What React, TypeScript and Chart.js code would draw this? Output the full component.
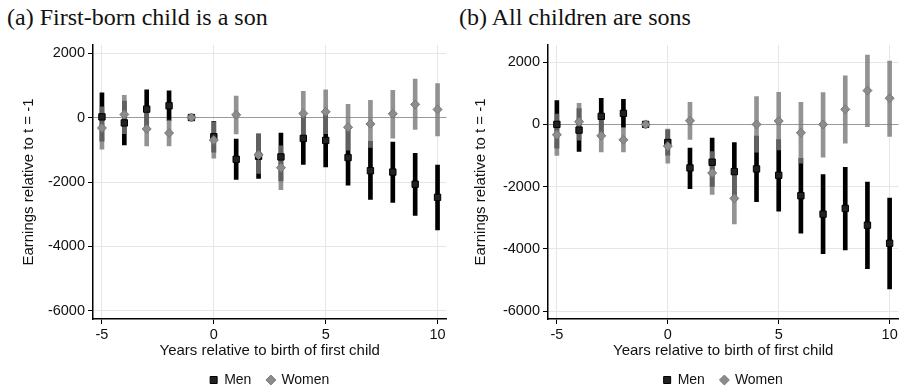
import React, { useEffect, useRef } from 'react';
import { Chart, registerables } from 'chart.js';

Chart.register(...registerables);

const years = [-5, -4, -3, -2, -1, 0, 1, 2, 3, 4, 5, 6, 7, 8, 9, 10];

// Panel (a): first-born child is a son
const menA = [20, -167, 261, 365, 0, -595, -1295, -1200, -1222, -647, -710, -1243, -1650, -1692, -2068, -2475];
const menALo = [-730, -846, -334, -95, 0, -1075, -1921, -1890, -1964, -1452, -1535, -2099, -2538, -2632, -3039, -3488];
const menAHi = [770, 512, 856, 825, 0, -115, -668, -510, -480, 158, 115, -387, -741, -762, -1107, -1473];
const womenA = [-324, 94, -355, -480, 0, -700, 84, -1159, -1556, 125, 178, -303, -198, 115, 407, 251];
const womenALo = [-982, -500, -877, -877, 0, -1264, -512, -1730, -2235, -565, -500, -1013, -930, -637, -366, -574];
const womenAHi = [334, 690, 167, -83, 0, -136, 668, -501, -877, 815, 856, 407, 533, 846, 1190, 1055];

// Panel (b): all children are sons
const menB = [0, -183, 258, 355, 0, -581, -1398, -1215, -1516, -1430, -1634, -2290, -2882, -2699, -3237, -3817];
const menBLo = [-763, -871, -323, -96, 0, -990, -2065, -1989, -2451, -2484, -2785, -3495, -4150, -4032, -4634, -5280];
const menBHi = [763, 505, 839, 806, 0, -172, -763, -441, -581, -376, -484, -1086, -1613, -1376, -1849, -2366];
const womenB = [-333, 86, -366, -495, 0, -699, 118, -1559, -2376, 0, 108, -269, 0, 484, 1086, 839];
const womenBLo = [-1000, -505, -882, -882, 0, -1247, -484, -2247, -3194, -892, -817, -1247, -1054, -602, -75, -387];
const womenBHi = [333, 677, 150, -108, 0, -151, 710, -871, -1559, 892, 1032, 710, 1022, 1559, 2226, 2032];

const yTicks = [-6000, -4000, -2000, 0, 2000];
const xTicks = [-5, 0, 5, 10];
const seriesLabels = ['Men', 'Women'];
const panelTitles = ['(a) First-born child is a son', '(b) All children are sons'];
const xTitle = 'Years relative to birth of first child';
const yTitle = 'Earnings relative to t = -1';

const SANS = '"Liberation Sans", Arial, sans-serif';
const SERIF = '"Liberation Serif", "Times New Roman", serif';

type PanelProps = {
  left: number;
  title: string;
  men: number[];
  menLo: number[];
  menHi: number[];
  women: number[];
  womenLo: number[];
  womenHi: number[];
  yMax: number;
  yAxisWidth: number;
  padRight: number;
};

function Panel(p: PanelProps) {
  const ref = useRef<HTMLCanvasElement | null>(null);
  useEffect(() => {
    if (!ref.current) return;
    const chart = new Chart(ref.current, {
      type: 'bar',
      data: {
        datasets: [
          {
            type: 'bar',
            label: seriesLabels[0] + ' CI',
            data: years.map((x, i) => ({ x, y: [p.menLo[i], p.menHi[i]] })) as any,
            backgroundColor: '#000',
            barThickness: 4,
            grouped: false,
            order: 4,
          } as any,
          {
            type: 'bar',
            label: seriesLabels[1] + ' CI',
            data: years.map((x, i) => ({ x, y: [p.womenLo[i], p.womenHi[i]] })) as any,
            backgroundColor: 'rgba(120,120,120,0.8)',
            barThickness: 4,
            grouped: false,
            order: 3,
          } as any,
          {
            type: 'scatter',
            label: seriesLabels[0],
            data: years.map((x, i) => ({ x, y: p.men[i] })),
            pointStyle: 'rect',
            pointRadius: 4.5,
            backgroundColor: '#222',
            borderColor: '#000',
            borderWidth: 1,
            order: 2,
          } as any,
          {
            type: 'scatter',
            label: seriesLabels[1],
            data: years.map((x, i) => ({ x, y: p.women[i] })),
            pointStyle: 'rectRot',
            pointRadius: 4.5,
            backgroundColor: '#8c8c8c',
            borderColor: '#777',
            borderWidth: 1,
            order: 1,
          } as any,
        ],
      },
      options: {
        animation: false,
        responsive: false,
        layout: { padding: { top: 15, right: p.padRight, left: 0, bottom: 0 } },
        plugins: {
          tooltip: { enabled: false },
          legend: {
            position: 'bottom',
            fullSize: false,
            labels: {
              generateLabels: (chart: any) =>
                Chart.defaults.plugins.legend.labels
                  .generateLabels(chart)
                  .filter((item: any) => item.datasetIndex >= 2)
                  .sort((a: any, b: any) => a.datasetIndex - b.datasetIndex)
                  .map((item: any) =>
                    item.datasetIndex === 2 ? { ...item, text: item.text + '\u2002' } : item
                  ),
              usePointStyle: true,
              boxWidth: 7,
              boxHeight: 7,
              padding: 9,
              color: '#111',
              font: { family: SANS, size: 14 },
            },
          } as any,
        },
        scales: {
          x: {
            type: 'linear',
            min: -5.4,
            max: 10.4,
            offset: false,
            afterBuildTicks: (s: any) => {
              s.ticks = xTicks.map((v) => ({ value: v }));
            },
            afterFit: (s: any) => {
              s.height = 45;
            },
            grid: { color: '#e6e6e6', tickColor: '#000', tickLength: 5, offset: false },
            border: { color: '#000', width: 1.5 },
            ticks: {
              color: '#111',
              padding: 2,
              maxRotation: 0,
              autoSkip: false,
              font: { family: SANS, size: 14.5 },
              callback: (v: any) => String(v),
            },
            title: {
              display: true,
              text: xTitle,
              color: '#111',
              font: { family: SANS, size: 15 },
              padding: { top: 4, bottom: 4 },
            },
          } as any,
          y: {
            type: 'linear',
            min: -6250,
            max: p.yMax,
            afterBuildTicks: (s: any) => {
              s.ticks = yTicks.map((v) => ({ value: v }));
            },
            afterFit: (s: any) => {
              s.width = p.yAxisWidth;
            },
            grid: {
              color: (ctx: any) => (ctx.tick && ctx.tick.value === 0 ? '#9a9a9a' : '#e6e6e6'),
              tickColor: '#000',
              tickLength: 5,
            },
            border: { color: '#000', width: 1.5 },
            ticks: {
              color: '#111',
              padding: 3,
              font: { family: SANS, size: 14.5 },
              callback: (v: any) => String(v),
            },
            title: {
              display: true,
              text: yTitle,
              color: '#111',
              font: { family: SANS, size: 15 },
              padding: 20,
            },
          } as any,
        },
      },
    });
    return () => chart.destroy();
  }, []);

  return (
    <div style={{ position: 'absolute', left: p.left, top: 0, width: 452, height: 387 }}>
      <div
        style={{
          position: 'absolute',
          left: 7,
          top: 5,
          fontFamily: SERIF,
          fontSize: 24,
          lineHeight: '24px',
          color: '#111',
          whiteSpace: 'nowrap',
        }}
      >
        {p.title}
      </div>
      <canvas
        ref={ref}
        width={452}
        height={367}
        style={{ position: 'absolute', left: 0, top: 30, width: 452, height: 367 }}
      />
    </div>
  );
}

export default function App() {
  return (
    <div
      style={{
        position: 'absolute',
        left: 0,
        top: 0,
        width: 904,
        height: 387,
        overflow: 'hidden',
        background: '#fff',
      }}
    >
      <Panel
        left={0}
        title={panelTitles[0]}
        men={menA}
        menLo={menALo}
        menHi={menAHi}
        women={womenA}
        womenLo={womenALo}
        womenHi={womenAHi}
        yMax={2250}
        yAxisWidth={93}
        padRight={5}
      />
      <Panel
        left={452}
        title={panelTitles[1]}
        men={menB}
        menLo={menBLo}
        menHi={menBHi}
        women={womenB}
        womenLo={womenBLo}
        womenHi={womenBHi}
        yMax={2550}
        yAxisWidth={96}
        padRight={3}
      />
    </div>
  );
}
